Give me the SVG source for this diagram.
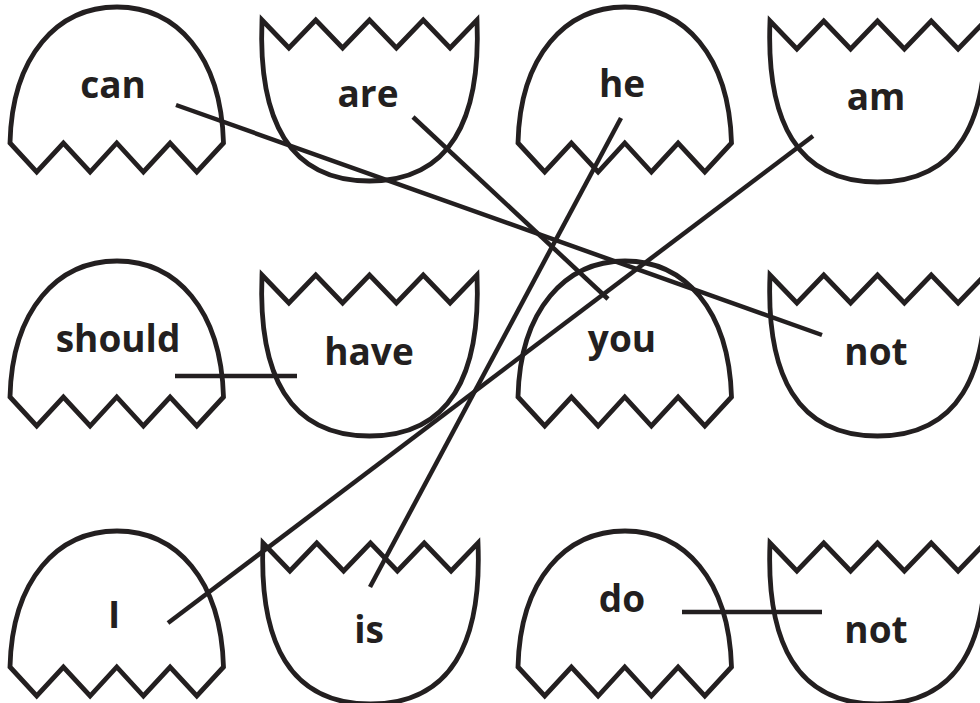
<svg xmlns="http://www.w3.org/2000/svg" xmlns:xlink="http://www.w3.org/1999/xlink" width="980" height="703" viewBox="0 0 980 703">
<style>
.shell{fill:#fff;stroke:#231f20;stroke-width:4.8;stroke-linejoin:miter}
.lbl{font-family:"Open Sans","Noto Sans",sans-serif;font-weight:bold;font-size:37px;fill:#231f20;text-anchor:middle}
.con line{stroke:#231f20;stroke-width:4.5;stroke-linecap:butt}
</style>
<defs>
<path id="top" d="M0,0 C2,-88 48,-136 107,-136 C166,-136 211,-88 213.5,0 L186.8,29 L160.1,0 L133.4,29 L106.75,0 L80.1,29 L53.4,0 L26.7,29 Z"/>
<path id="bot" d="M0,0 L26.9,28 L53.75,0 L80.6,28 L107.5,0 L134.4,28 L161.25,0 L188.1,28 L215,0 C219,100 188,161 107.5,161 C27,161 -4,100 0,0 Z"/>
</defs>
<rect width="980" height="703" fill="#fff"/>
<g id="n-can"><use xlink:href="#top" class="shell" x="10" y="143"/><text class="lbl" x="113" y="98">can</text></g>
<g id="n-are"><use xlink:href="#bot" class="shell" x="262" y="20"/><text class="lbl" x="368" y="107">are</text></g>
<g id="n-he"><use xlink:href="#top" class="shell" x="518" y="143"/><text class="lbl" x="622" y="97">he</text></g>
<g id="n-am"><use xlink:href="#bot" class="shell" x="770" y="21"/><text class="lbl" x="876" y="110">am</text></g>
<g id="n-should"><use xlink:href="#top" class="shell" x="10" y="397"/><text class="lbl" x="118" y="352">should</text></g>
<g id="n-have"><use xlink:href="#bot" class="shell" x="262" y="275"/><text class="lbl" x="369" y="365">have</text></g>
<g id="n-you"><use xlink:href="#top" class="shell" x="518" y="397"/><text class="lbl" x="622" y="352">you</text></g>
<g id="n-not1"><use xlink:href="#bot" class="shell" x="770" y="275"/><text class="lbl" x="876" y="365">not</text></g>
<g id="n-I"><use xlink:href="#top" class="shell" x="10" y="667"/><text class="lbl" x="114" y="628">I</text></g>
<g id="n-is"><use xlink:href="#bot" class="shell" x="263" y="543"/><text class="lbl" x="369" y="643">is</text></g>
<g id="n-do"><use xlink:href="#top" class="shell" x="518" y="667"/><text class="lbl" x="622" y="612">do</text></g>
<g id="n-not2"><use xlink:href="#bot" class="shell" x="770" y="543"/><text class="lbl" x="876" y="643">not</text></g>
<g id="connectors" class="con">
<line x1="176" y1="105" x2="822" y2="335"/>
<line x1="413" y1="117" x2="608" y2="299"/>
<line x1="621" y1="118" x2="370" y2="587"/>
<line x1="813" y1="136" x2="168" y2="623"/>
<line x1="175" y1="376" x2="297" y2="376"/>
<line x1="682" y1="612" x2="822" y2="612"/>
</g>
</svg>
